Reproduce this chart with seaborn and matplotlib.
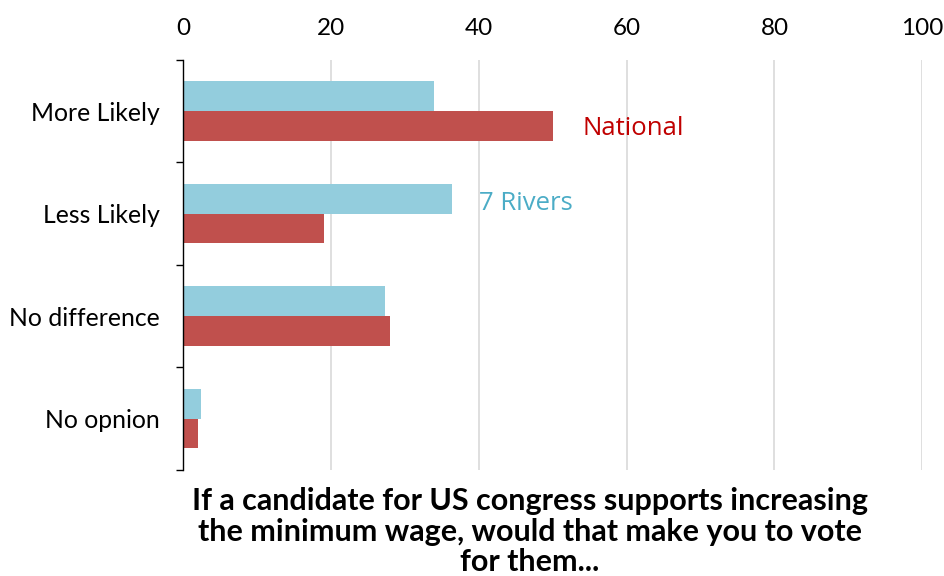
import numpy as np
import pandas as pd
import matplotlib
matplotlib.use("Agg")
import matplotlib.pyplot as plt
from matplotlib.ticker import FixedLocator
import seaborn as sns

categories = ["More Likely", "Less Likely", "No difference", "No opnion"]
rivers = [34.0, 36.4, 27.3, 2.4]
national = [50.0, 19.0, 28.0, 2.0]
series = ["7 Rivers", "National"]
x_ticks = [0, 20, 40, 60, 80, 100]

df = pd.DataFrame({
    "category": categories * 2,
    "value": rivers + national,
    "series": [series[0]] * len(categories) + [series[1]] * len(categories),
})

sns.set_theme(style="white")
plt.rcParams["font.family"] = ["Lato", "DejaVu Sans"]
plt.rcParams["text.color"] = "black"
plt.rcParams["xtick.color"] = "black"
plt.rcParams["ytick.color"] = "black"

fig = plt.figure(figsize=(9.44, 5.76), dpi=100)
ax = fig.add_axes([0.194, 0.184, 0.783, 0.712])

sns.barplot(data=df, y="category", x="value", hue="series", orient="h",
            order=categories, hue_order=series,
            palette=["#93CDDD", "#C0504D"], width=0.58, saturation=1,
            edgecolor="none", linewidth=0,
            legend=False, ax=ax)

ax.set_xlim(0, 100)
ax.set_ylim(3.5, -0.5)
ax.set_xticks(x_ticks)
ax.xaxis.tick_top()
ax.tick_params(axis="x", length=0, labelsize=17.5, pad=15)
ax.xaxis.grid(True, color="#D9D9D9", linewidth=1.2)
ax.set_axisbelow(True)

ax.tick_params(axis="y", which="major", length=0, labelsize=17.8, pad=17)
ax.yaxis.set_minor_locator(FixedLocator(np.arange(-0.5, 4, 1)))
ax.tick_params(axis="y", which="minor", left=True, length=5, width=1,
               color="black", direction="out")

for s in ["top", "right", "bottom"]:
    ax.spines[s].set_visible(False)
ax.spines["left"].set_color("black")
ax.spines["left"].set_linewidth(1)
ax.set_xlabel("")
ax.set_ylabel("")

ax.text(54, 0.17, "National", color="#C00000", fontsize=18.5, va="center",
        family=["Open Sans", "DejaVu Sans"])
ax.text(40, 0.9, "7 Rivers", color="#4BACC6", fontsize=18.5, va="center",
        family=["Open Sans", "DejaVu Sans"])

fig.text(0.561, 0.0,
         "If a candidate for US congress supports increasing\nthe minimum wage, would that make you to vote\nfor them...",
         ha="center", va="bottom", fontsize=22, fontweight="bold",
         linespacing=1.1, multialignment="center")

fig.savefig("out.png", dpi=100)
